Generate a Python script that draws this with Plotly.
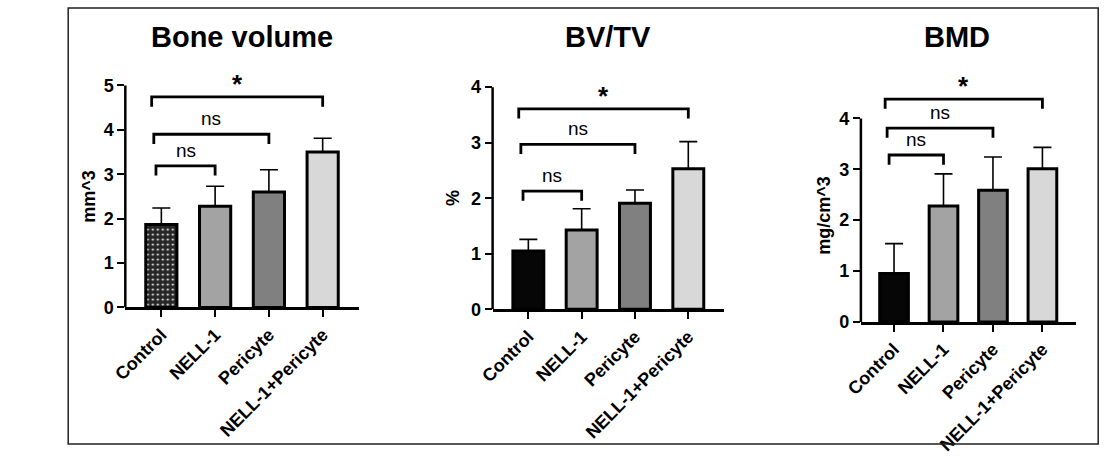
import plotly.graph_objects as go

groups = ["Control", "NELL-1", "Pericyte", "NELL-1+Pericyte"]

bone_volume = [1.87, 2.28, 2.60, 3.50]
bone_volume_sd = [0.37, 0.45, 0.50, 0.31]
bvtv = [1.05, 1.43, 1.91, 2.53]
bvtv_sd = [0.21, 0.38, 0.24, 0.49]
bmd = [0.95, 2.28, 2.59, 3.01]
bmd_sd = [0.59, 0.63, 0.65, 0.42]

comparisons = [(0, 1, "ns"), (0, 2, "ns"), (0, 3, "*")]
bv_bracket_y = [3.19, 3.90, 4.74]
bvtv_bracket_y = [2.13, 2.97, 3.61]
bmd_bracket_y = [3.28, 3.81, 4.38]

titles = ["Bone volume", "BV/TV", "BMD"]
ylabels = ["mm^3", "%", "mg/cm^3"]
y_ticks = [[0, 1, 2, 3, 4, 5], [0, 1, 2, 3, 4], [0, 1, 2, 3, 4]]

W, H = 1112, 457
FONT = "Liberation Sans, Arial, Helvetica, sans-serif"
bar_colors = ["#060606", "#a3a3a3", "#808080", "#d8d8d8"]

# pixel boxes of each panel: x0, x1, y of zero, px per unit, range top
panels = [
    dict(x0=110, x1=347, ybot=313, unit=45.8, top=5.3, title_x=229, ylab_x=73, ylab_y=198),
    dict(x0=483, x1=718, ybot=315, unit=57.3, top=4.1, title_x=600, ylab_x=443, ylab_y=200),
    dict(x0=857, x1=1075, ybot=328, unit=52.5, top=4.9, title_x=955, ylab_x=820, ylab_y=218),
]
values = [bone_volume, bvtv, bmd]
errors = [bone_volume_sd, bvtv_sd, bmd_sd]
brackets = [bv_bracket_y, bvtv_bracket_y, bmd_bracket_y]

fig = go.Figure()
shapes = []
annotations = []

for i, p in enumerate(panels):
    ax = "" if i == 0 else str(i + 1)
    xa, ya = "x" + ax, "y" + ax
    ytop_px = p["ybot"] - p["top"] * p["unit"]

    marker = dict(color=bar_colors, line=dict(color="black", width=3))
    if i == 0:
        # dotted dark fill on the control bar
        marker["color"] = ["#262626"] + bar_colors[1:]
        marker["pattern"] = dict(
            shape=[".", "", "", ""], fgcolor="#8a8a8a", fgopacity=1,
            size=5, solidity=0.14, fillmode="overlay",
        )

    fig.add_trace(go.Bar(
        x=groups, y=values[i], width=0.58, marker=marker,
        error_y=dict(type="data", symmetric=False, array=errors[i],
                     arrayminus=[0] * len(groups), color="black", thickness=1.6, width=9),
        xaxis=xa, yaxis=ya, showlegend=False,
    ))

    dom_x = [p["x0"] / W, p["x1"] / W]
    dom_y = [1 - p["ybot"] / H, 1 - ytop_px / H]
    fig.update_layout(**{
        "xaxis" + ax: dict(
            domain=dom_x, range=[-0.67, 3.67], anchor=ya, showline=True, linecolor="black",
            linewidth=2.5, ticks="outside", ticklen=7, tickwidth=2, tickcolor="black",
            tickangle=-45, showgrid=False, zeroline=False,
            tickfont=dict(family=FONT, size=18, color="black", weight="bold"),
        ),
        "yaxis" + ax: dict(
            domain=dom_y, range=[0, p["top"]], anchor=xa, showline=False,
            tickvals=y_ticks[i], ticks="outside", ticklen=7, tickwidth=2, tickcolor="black",
            showgrid=False, zeroline=False,
            tickfont=dict(family=FONT, size=18, color="black", weight="bold"),
        ),
    })

    # y axis line stops at last tick
    shapes.append(dict(type="line", xref="paper", yref=ya, x0=dom_x[0], x1=dom_x[0],
                       y0=0, y1=y_ticks[i][-1], line=dict(color="black", width=2.5)))

    drop = 10 / p["unit"]
    for k, (a, b, lab) in enumerate(comparisons):
        yb = brackets[i][k]
        xl = a - 0.1 - 0.04 * k
        xr = b
        path = f"M {xl},{yb - drop} L {xl},{yb} L {xr},{yb} L {xr},{yb - drop}"
        shapes.append(dict(type="path", xref=xa, yref=ya, path=path,
                           line=dict(color="black", width=2.8)))
        is_star = lab == "*"
        annotations.append(dict(
            x=(xl + xr) / 2, y=yb, xref=xa, yref=ya, text=lab, showarrow=False,
            yanchor="bottom", yshift=-4 if is_star else 3,
            font=dict(family=FONT, size=26 if is_star else 19, color="black",
                      weight="bold" if is_star else "normal"),
        ))

    annotations.append(dict(
        x=p["title_x"] / W, y=1 - 34 / H, xref="paper", yref="paper", text=titles[i],
        showarrow=False, xanchor="center", yanchor="middle",
        font=dict(family=FONT, size=29, color="black", weight="bold"),
    ))
    annotations.append(dict(
        x=p["ylab_x"] / W, y=1 - p["ylab_y"] / H, xref="paper", yref="paper", text=ylabels[i],
        showarrow=False, textangle=-90, xanchor="center", yanchor="middle",
        font=dict(family=FONT, size=18, color="black", weight="bold"),
    ))

# outer frame
shapes.append(dict(type="rect", xref="paper", yref="paper", x0=52 / W, x1=1098 / W,
                   y0=1 - 454 / H, y1=1 - 4 / H, line=dict(color="#222222", width=1.5)))

fig.update_layout(
    width=W, height=H, margin=dict(l=0, r=0, t=0, b=0),
    paper_bgcolor="white", plot_bgcolor="white",
    shapes=shapes, annotations=annotations,
)

fig.write_html(
    "out.html",
    config={"displayModeBar": False},
    post_script="document.body.style.margin='0px';document.body.style.overflow='hidden';",
)
